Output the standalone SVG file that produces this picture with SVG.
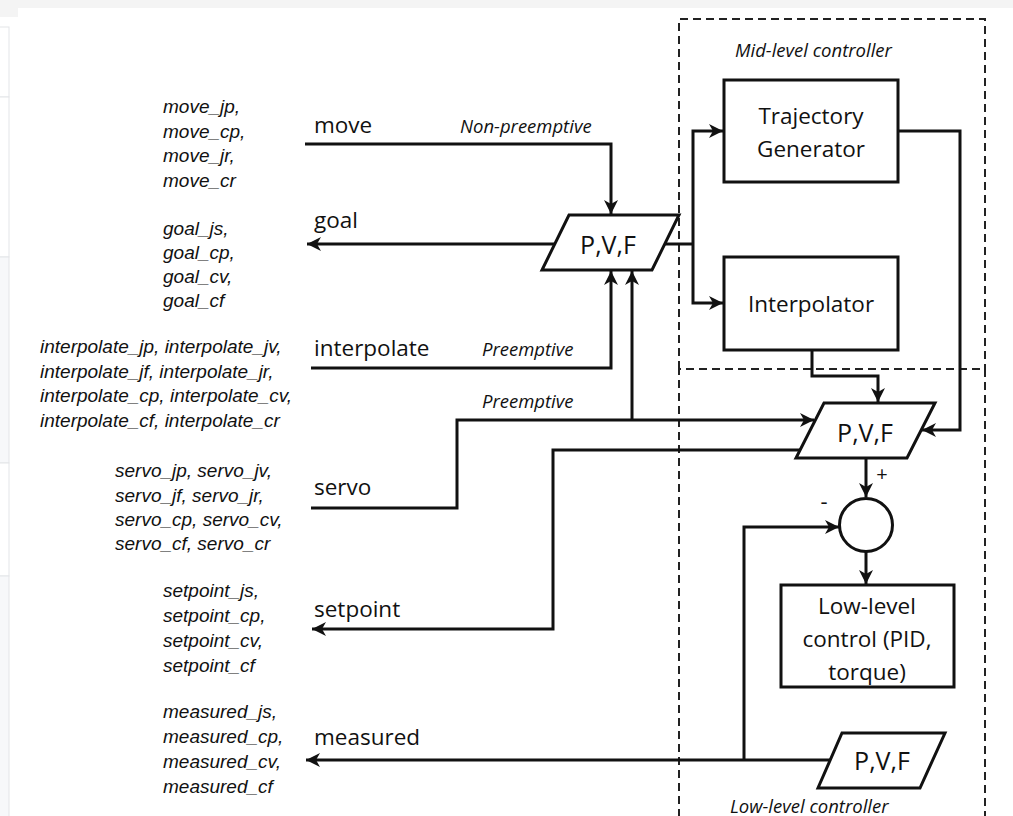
<svg xmlns="http://www.w3.org/2000/svg" width="1013" height="816" viewBox="0 0 1013 816">
<defs>
<style>
.bg{fill:#ffffff}
.strip{fill:#f4f4f4}
.panel{fill:#f7f8fa;stroke:#e3e5e8;stroke-width:1}
.box{fill:#ffffff;stroke:#111;stroke-width:3}
.dash{fill:none;stroke:#222;stroke-width:2;stroke-dasharray:8 5}
.conn{fill:none;stroke:#111;stroke-width:3}
.lbl{font-family:"Open Sans","Liberation Sans",sans-serif;font-size:22.5px;fill:#111}
.big{font-family:"Open Sans","Liberation Sans",sans-serif;font-size:25px;fill:#111;text-anchor:middle}
.mid{font-family:"Open Sans","Liberation Sans",sans-serif;font-size:22.5px;fill:#111;text-anchor:middle}
.it{font-family:"Liberation Sans","Open Sans",sans-serif;font-size:19px;font-style:italic;fill:#111}
.note{font-family:"Open Sans","Liberation Sans",sans-serif;font-size:18.5px;font-style:italic;fill:#111}
</style>
<marker id="arr" markerUnits="userSpaceOnUse" markerWidth="16" markerHeight="14" refX="14" refY="7" orient="auto">
<path d="M0,0 L14,7 L0,14 L4,7 z" fill="#111"/>
</marker>
</defs>

<rect class="bg" x="0" y="0" width="1013" height="816"/>
<rect class="strip" x="0" y="0" width="1013" height="8"/>
<rect class="strip" x="0" y="0" width="18" height="17"/>
<rect x="-1" y="27" width="10" height="70" fill="#ffffff" stroke="#e3e5e8"/>
<rect x="-1" y="97" width="10" height="160" fill="#ffffff" stroke="#e3e5e8"/>
<rect class="panel" x="-1" y="257" width="10" height="206"/>
<rect x="-1" y="463" width="10" height="113" fill="#ffffff" stroke="#e3e5e8"/>
<rect class="panel" x="-1" y="576" width="10" height="245"/>

<g id="mid-level-controller">
<path class="dash" d="M679,369 V19 H985 V369"/>
<text class="note" x="735" y="57">Mid-level controller</text>
</g>
<g id="low-level-controller">
<path class="dash" d="M679,830 V369 H985 V830"/>
<text class="note" x="730" y="813">Low-level controller</text>
</g>

<g id="connectors">
<path class="conn" d="M305,144 H611 V214" marker-end="url(#arr)"/>
<path class="conn" d="M555,244 H307" marker-end="url(#arr)"/>
<path class="conn" d="M665,244 H693"/>
<path class="conn" d="M693,244 V131 H723" marker-end="url(#arr)"/>
<path class="conn" d="M693,244 V303 H723" marker-end="url(#arr)"/>
<path class="conn" d="M311,368 H611 V271" marker-end="url(#arr)"/>
<path class="conn" d="M311,508 H457 V420 H814" marker-end="url(#arr)"/>
<path class="conn" d="M632,420 V271" marker-end="url(#arr)"/>
<path class="conn" d="M800,450 H553 V629 H312" marker-end="url(#arr)"/>
<path class="conn" d="M830,760 H306" marker-end="url(#arr)"/>
<path class="conn" d="M744,760 V527 H839" marker-end="url(#arr)"/>
<path class="conn" d="M812,350 V376 H878 V402" marker-end="url(#arr)"/>
<path class="conn" d="M898,131 H960 V430 H922" marker-end="url(#arr)"/>
<path class="conn" d="M866,458 V497" marker-end="url(#arr)"/>
<path class="conn" d="M866,552 V584" marker-end="url(#arr)"/>
<text class="lbl" x="314" y="133">move</text>
<text class="lbl" x="314" y="228">goal</text>
<text class="lbl" x="314" y="356">interpolate</text>
<text class="lbl" x="314" y="495">servo</text>
<text class="lbl" x="314" y="617">setpoint</text>
<text class="lbl" x="314" y="745">measured</text>
<text class="note" x="460" y="133">Non-preemptive</text>
<text class="note" x="482" y="356">Preemptive</text>
<text class="note" x="482" y="408">Preemptive</text>
<text class="mid" x="882" y="481" style="font-size:20px">+</text>
<text class="mid" x="824" y="509" style="font-size:22px">-</text>
</g>

<g id="command-lists">
<text class="it" x="163" y="113">move_jp,</text>
<text class="it" x="163" y="138">move_cp,</text>
<text class="it" x="163" y="162">move_jr,</text>
<text class="it" x="163" y="187">move_cr</text>
<text class="it" x="163" y="235">goal_js,</text>
<text class="it" x="163" y="259">goal_cp,</text>
<text class="it" x="163" y="283">goal_cv,</text>
<text class="it" x="163" y="307">goal_cf</text>
<text class="it" x="40" y="353">interpolate_jp, interpolate_jv,</text>
<text class="it" x="40" y="378">interpolate_jf, interpolate_jr,</text>
<text class="it" x="40" y="402">interpolate_cp, interpolate_cv,</text>
<text class="it" x="40" y="427">interpolate_cf, interpolate_cr</text>
<text class="it" x="115" y="477">servo_jp, servo_jv,</text>
<text class="it" x="115" y="502">servo_jf, servo_jr,</text>
<text class="it" x="115" y="526">servo_cp, servo_cv,</text>
<text class="it" x="115" y="550">servo_cf, servo_cr</text>
<text class="it" x="163" y="597">setpoint_js,</text>
<text class="it" x="163" y="622">setpoint_cp,</text>
<text class="it" x="163" y="647">setpoint_cv,</text>
<text class="it" x="163" y="672">setpoint_cf</text>
<text class="it" x="163" y="718">measured_js,</text>
<text class="it" x="163" y="743">measured_cp,</text>
<text class="it" x="163" y="768">measured_cv,</text>
<text class="it" x="163" y="793">measured_cf</text>
</g>

<g id="pvf-command">
<polygon class="box" points="569,215 679,215 652,270 542,270"/>
<text class="big" x="608" y="254">P,V,F</text>
</g>
<g id="trajectory-generator">
<rect class="box" x="724" y="80" width="174" height="102"/>
<text class="mid" x="811" y="124">Trajectory</text>
<text class="mid" x="811" y="157">Generator</text>
</g>
<g id="interpolator">
<rect class="box" x="724" y="257" width="174" height="93"/>
<text class="mid" x="811" y="312">Interpolator</text>
</g>
<g id="pvf-setpoint">
<polygon class="box" points="824,403 935,403 907,458 796,458"/>
<text class="big" x="865" y="442">P,V,F</text>
</g>
<g id="sum">
<circle class="box" cx="866" cy="525" r="26.5"/>
</g>
<g id="low-level-control">
<rect class="box" x="781" y="585" width="173" height="102"/>
<text class="mid" x="867" y="614">Low-level</text>
<text class="mid" x="867" y="647">control (PID,</text>
<text class="mid" x="867" y="680">torque)</text>
</g>
<g id="pvf-measured">
<polygon class="box" points="842,733 945,733 920,788 818,788"/>
<text class="big" x="882" y="770">P,V,F</text>
</g>
</svg>
